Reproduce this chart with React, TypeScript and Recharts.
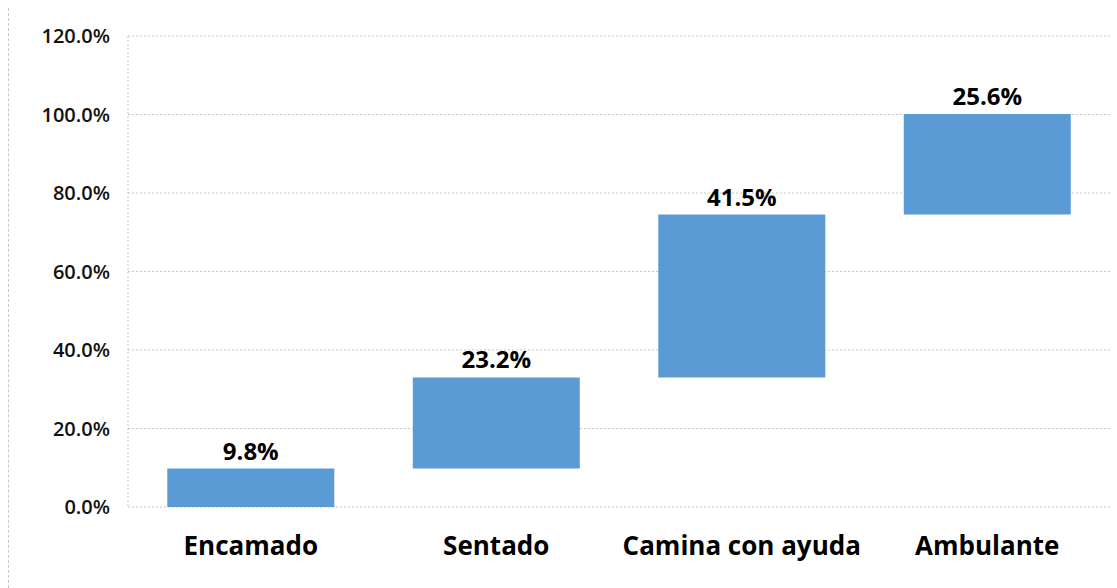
import { BarChart, Bar, XAxis, YAxis, CartesianGrid, LabelList } from 'recharts';

const categories = ['Encamado', 'Sentado', 'Camina con ayuda', 'Ambulante'];
const values = [9.8, 23.2, 41.5, 25.6];
const yTicks = [0, 20, 40, 60, 80, 100, 120];

// waterfall: each bar starts where the previous one ended
let running = 0;
const data = categories.map((name, i) => {
  const base = running;
  running += values[i];
  return { name, base, value: values[i] };
});

const font = '"Open Sans", sans-serif';

export default function App() {
  return (
    <div
      style={{
        position: 'absolute',
        top: 0,
        left: 0,
        width: 1117,
        height: 588,
        background: '#fff',
        fontFamily: font,
      }}
    >
      <div
        style={{
          position: 'absolute',
          left: 8,
          top: 8,
          bottom: 0,
          borderLeft: '1px dashed #c8c8c8',
        }}
      />
      <BarChart
        width={1117}
        height={588}
        data={data}
        margin={{ top: 36, right: 7, bottom: 51, left: 8 }}
        barCategoryGap="16%"
      >
        <CartesianGrid vertical={false} stroke="#c6c6c6" strokeDasharray="2 2" />
        <XAxis
          dataKey="name"
          axisLine={false}
          tickLine={false}
          tickMargin={24}
          tick={{ fill: '#000', fontSize: 26, fontWeight: 700, fontFamily: font }}
          interval={0}
        />
        <YAxis
          width={120}
          domain={[0, 120]}
          ticks={yTicks}
          axisLine={{ stroke: '#c6c6c6', strokeDasharray: '2 2' }}
          tickLine={false}
          tickMargin={12}
          tickFormatter={(v: number) => `${v.toFixed(1)}%`}
          tick={{ fill: '#111', fontSize: 20, fontWeight: 600, fontFamily: font }}
        />
        <Bar dataKey="base" stackId="w" fill="transparent" isAnimationActive={false} />
        <Bar dataKey="value" stackId="w" fill="#5b9bd5" isAnimationActive={false}>
          <LabelList
            dataKey="value"
            position="top"
            offset={9}
            formatter={(v: number) => `${v.toFixed(1)}%`}
            style={{ fill: '#000', fontSize: 24, fontWeight: 700, fontFamily: font }}
          />
        </Bar>
      </BarChart>
    </div>
  );
}
